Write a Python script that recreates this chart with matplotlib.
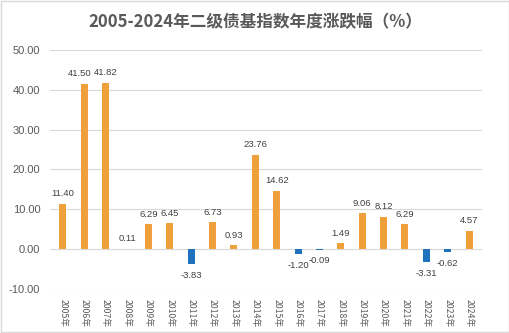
import matplotlib
matplotlib.use("Agg")
import matplotlib.pyplot as plt
from matplotlib.patches import Rectangle

plt.rcParams['font.family'] = ['Noto Sans CJK SC', 'DejaVu Sans']

years = [str(y) + "年" for y in range(2005, 2025)]
values = [11.40, 41.50, 41.82, 0.11, 6.29, 6.45, -3.83, 6.73, 0.93, 23.76,
          14.62, -1.20, -0.09, 1.49, 9.06, 8.12, 6.29, -3.31, -0.62, 4.57]
yticks = [-10, 0, 10, 20, 30, 40, 50]

orange = "#F0A03A"
blue = "#1F73BD"

fig = plt.figure(figsize=(5.10, 3.33), dpi=100)
ax = fig.add_axes([0.098, 0.132, 0.847, 0.718])

x = list(range(len(values)))
colors = [orange if v >= 0 else blue for v in values]
ax.bar(x, values, width=0.33, color=colors, zorder=3)

for i, v in enumerate(values):
    dx = -3 if i == 1 else 0
    if v >= 0:
        ax.annotate(f"{v:.2f}", (i, v), xytext=(dx, 4), textcoords="offset points",
                    ha="center", va="bottom", fontsize=6.8, color="#404040",
                    family=['Liberation Sans'])
    else:
        ax.annotate(f"{v:.2f}", (i, v), xytext=(0, -5), textcoords="offset points",
                    ha="center", va="top", fontsize=6.8, color="#404040",
                    family=['Liberation Sans'])

ax.set_ylim(-10, 50)
ax.set_yticks(yticks)
ax.set_yticklabels([f"{t:.2f}" for t in yticks], fontsize=8, color="#595959",
                   family=['Liberation Sans'])
ax.set_xlim(-0.6, len(values) - 0.4)
ax.set_xticks(x)
ax.set_xticklabels(years, rotation=-90, fontsize=6.3, color="#595959")
ax.tick_params(axis='both', length=0, pad=7)
ax.yaxis.grid(True, color="#D9D9D9", linewidth=0.8, zorder=0)
for s in ax.spines.values():
    s.set_visible(False)

fig.text(0.5, 0.935, "2005-2024年二级债基指数年度涨跌幅（%）", ha="center", va="center",
         fontsize=12, fontweight="bold", color="#595959")

fig.patches.append(Rectangle((0.002, 0.003), 0.996, 0.994, transform=fig.transFigure,
                             fill=False, edgecolor="#D9D9D9", linewidth=1))

fig.savefig("out.png", dpi=100)
